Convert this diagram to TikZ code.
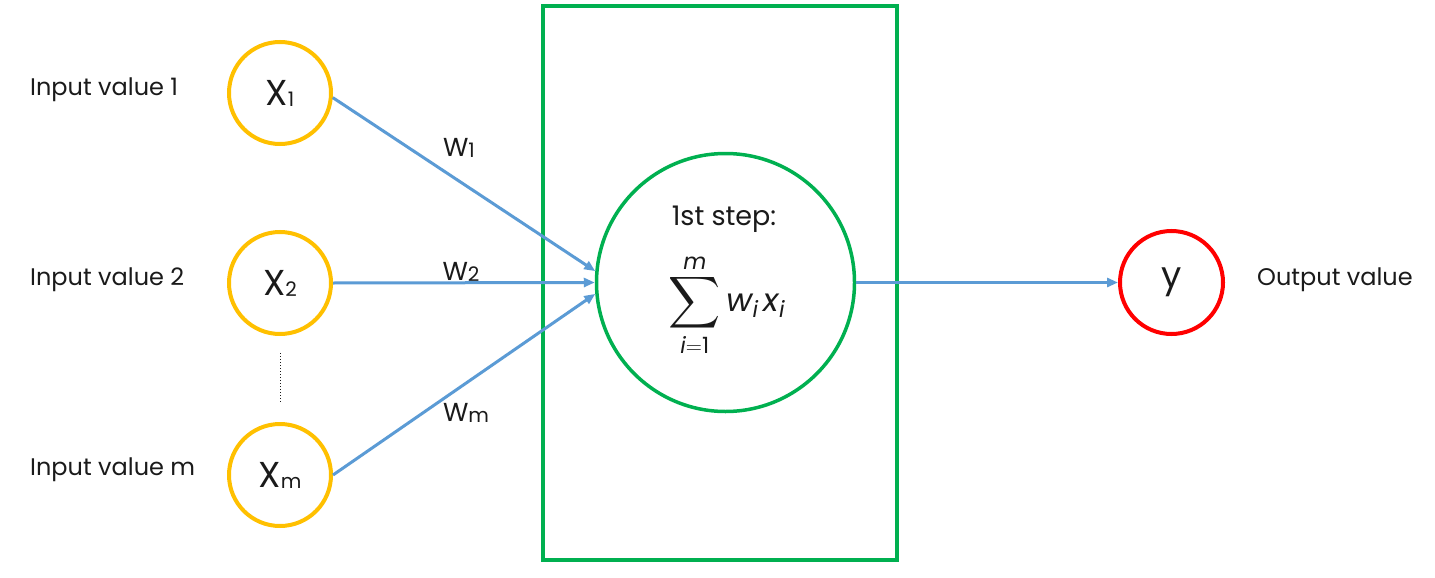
\RequirePackage{fix-cm}
\documentclass[tikz,border=0pt]{standalone}
\usepackage{amsmath}
\usepackage{graphicx}
\usepackage{fontspec}
\setmainfont{Poppins}
\usetikzlibrary{arrows.meta}
\definecolor{ygold}{HTML}{FFC000}
\definecolor{ggreen}{HTML}{00B050}
\definecolor{rred}{HTML}{FF0000}
\definecolor{wblue}{HTML}{5B9BD5}
\definecolor{txt}{HTML}{1A1A1A}
\begin{document}
\begin{tikzpicture}[x=1pt,y=-1pt,
  inp/.style={circle, draw=ygold, line width=4pt, minimum size=102pt, inner sep=0pt, text=txt, font=\fontsize{36}{40}\selectfont},
  bigc/.style={circle, draw=ggreen, line width=3.5pt, minimum size=258pt, inner sep=0pt},
  outc/.style={circle, draw=rred, line width=4pt, minimum size=103pt, inner sep=0pt, text=txt, font=\fontsize{36}{40}\selectfont},
  lbl/.style={text=txt, font=\fontsize{24}{28}\selectfont, inner sep=0pt},
  wlbl/.style={text=txt, font=\fontsize{26}{30}\selectfont, inner sep=0pt},
  wire/.style={draw=wblue, line width=3pt, -{Triangle[length=11pt,width=9pt]}},
  frame/.style={draw=ggreen, line width=4pt}
]
\useasboundingbox (0,0) rectangle (1435,578);
\fill[white] (0,0) rectangle (1435,578);

\node[frame, minimum width=354pt, minimum height=554pt, inner sep=0pt] (box) at (720,283) {};

\newcommand{\subx}[1]{{\fontsize{20}{20}\selectfont\raisebox{-1pt}{#1}}}
\newcommand{\ti}[1]{\textit{#1}}
\newcommand{\bigsum}{\mathop{\vcenter{\hbox{\scalebox{1.45}{$\displaystyle\sum$}}}}\limits}

\node[bigc] (S) at (725.5,282.5) {};
\node[text=txt, font=\fontsize{27}{30}\selectfont, inner sep=0pt] (step) at (724,219) {1st step:};
\node[text=txt, font=\fontsize{32}{36}\selectfont, inner sep=0pt] (sum) at (727,305) {$\displaystyle\bigsum_{\ti{i}=\text{1}}^{\ti{m}} \ti{w}_{\ti{i}}\,\ti{x}_{\ti{i}}$};

\node[inp] (X1) at (280,93) {X\subx{1}};
\node[inp] (X2) at (280,283) {X\subx{2}};
\node[inp] (Xm) at (280,475) {X\subx{m}};

\node[outc] (Y) at (1171.5,282.5) {y};

\node[lbl, anchor=west] (L1) at (30,90) {Input value 1};
\node[lbl, anchor=west] (L2) at (30,280) {Input value 2};
\node[lbl, anchor=west] (Lm) at (30,470) {Input value m};
\node[lbl, anchor=west] (LO) at (1257,280) {Output value};

\node[wlbl] (W1) at (459,148) {W\subx{1}};
\node[wlbl] (W2) at (461,272) {W\subx{2}};
\node[wlbl] (Wm) at (466,413) {W\subx{m}};

\coordinate (d1) at (280,353);
\coordinate (d2) at (280,403);
\draw[txt, line width=1pt, dotted] (d1) -- (d2);

\draw[wire] (X1.-5) -- (S.175);
\draw[wire] (X2.east) -- (S.west);
\draw[wire] (Xm.east) -- (S.185);
\draw[wire] (S.east) -- (Y.west);
\end{tikzpicture}
\end{document}
